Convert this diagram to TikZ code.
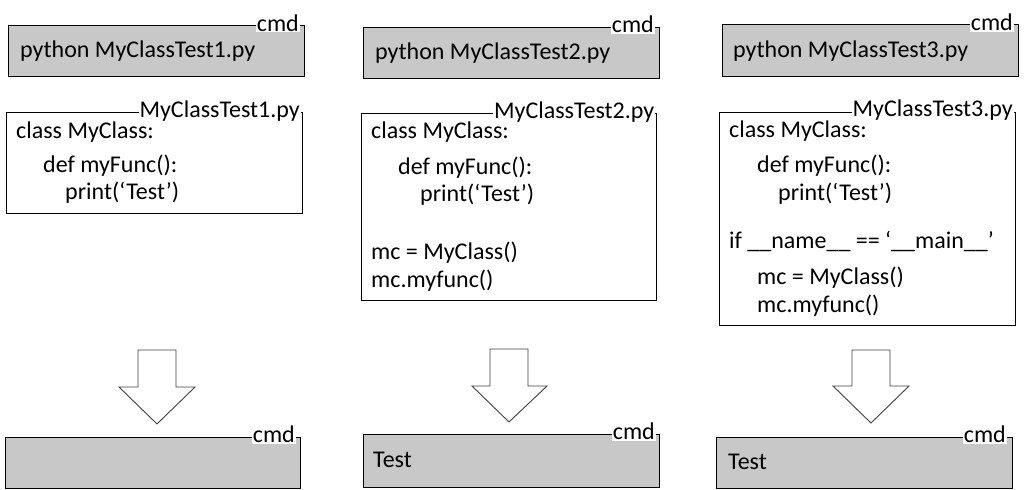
\documentclass[tikz,border=0pt]{standalone}
\usepackage{fontspec}
\setmainfont{Carlito}
\definecolor{boxgray}{RGB}{200,200,200}
\begin{document}
\begin{tikzpicture}[x=1pt,y=-1pt,
  every node/.style={font=\fontsize{24}{28}\selectfont},
  cmdbox/.style={draw=black,line width=1pt,fill=boxgray,anchor=north west,inner sep=0pt},
  filebox/.style={draw=black,line width=1pt,fill=white,anchor=north west,inner sep=0pt},
  code/.style={anchor=base west,inner sep=0pt},
  tag/.style={anchor=base east,fill=white,inner xsep=1pt,inner ysep=1pt},
  blockarrow/.style={draw=black!75,line width=0.9pt,fill=white,line join=miter}]
\useasboundingbox (0,0) rectangle (1029,490);

% ---------- column 1 ----------
\node[cmdbox,minimum width=296pt,minimum height=51pt] (c1) at (8,25) {};
\node[tag] (c1t) at (300,31) {cmd};
\node[code] (c1x) at (20,57) {python MyClassTest1.py};

\node[filebox,minimum width=296pt,minimum height=101pt] (f1) at (6,112) {};
\node[tag] (f1t) at (301,117) {MyClassTest1.py};
\node[code] (f1a) at (16,138) {class MyClass:};
\node[code] (f1b) at (43,172) {def myFunc():};
\node[code] (f1c) at (65,199.5) {print(‘Test’)};

\draw[blockarrow] (138,350) -- (176,350) -- (176,387) -- (195,387) -- (157,424) -- (119,387) -- (138,387) -- cycle;

\node[cmdbox,minimum width=295pt,minimum height=51pt] (b1) at (5,437) {};
\node[tag] (b1t) at (296,442.5) {cmd};

% ---------- column 2 ----------
\node[cmdbox,minimum width=296pt,minimum height=51pt] (c2) at (363,27) {};
\node[tag] (c2t) at (655,32.5) {cmd};
\node[code] (c2x) at (375,59) {python MyClassTest2.py};

\node[filebox,minimum width=295pt,minimum height=187pt] (f2) at (361,113) {};
\node[tag] (f2t) at (655.5,118) {MyClassTest2.py};
\node[code] (f2a) at (371,138) {class MyClass:};
\node[code] (f2b) at (398,174) {def myFunc():};
\node[code] (f2c) at (420,201.5) {print(‘Test’)};
\node[code] (f2d) at (371,259) {mc = MyClass()};
\node[code] (f2e) at (371,287) {mc.myfunc()};

\draw[blockarrow] (490,349) -- (528,349) -- (528,386) -- (547,386) -- (509,422) -- (472,386) -- (490,386) -- cycle;

\node[cmdbox,minimum width=296pt,minimum height=53pt] (b2) at (363,434) {};
\node[tag] (b2t) at (656,439.5) {cmd};
\node[code] (b2x) at (373,467.5) {Test};

% ---------- column 3 ----------
\node[cmdbox,minimum width=296pt,minimum height=52pt] (c3) at (722,24) {};
\node[tag] (c3t) at (1014,30.5) {cmd};
\node[code] (c3x) at (733,57) {python MyClassTest3.py};

\node[filebox,minimum width=296pt,minimum height=213pt] (f3) at (719,112) {};
\node[tag] (f3t) at (1014,116.5) {MyClassTest3.py};
\node[code] (f3a) at (729,137) {class MyClass:};
\node[code] (f3b) at (757,172) {def myFunc():};
\node[code] (f3c) at (778,200) {print(‘Test’)};
\node[code] (f3d) at (729,248) {if \_\_name\_\_ == ‘\_\_main\_\_’};
\node[code] (f3e) at (757,284) {mc = MyClass()};
\node[code] (f3f) at (757,312) {mc.myfunc()};

\draw[blockarrow] (852,350) -- (890,350) -- (890,386) -- (909,386) -- (871,423) -- (833,386) -- (852,386) -- cycle;

\node[cmdbox,minimum width=296pt,minimum height=51pt] (b3) at (716,437) {};
\node[tag] (b3t) at (1007,442.5) {cmd};
\node[code] (b3x) at (728,469) {Test};
\end{tikzpicture}
\end{document}
